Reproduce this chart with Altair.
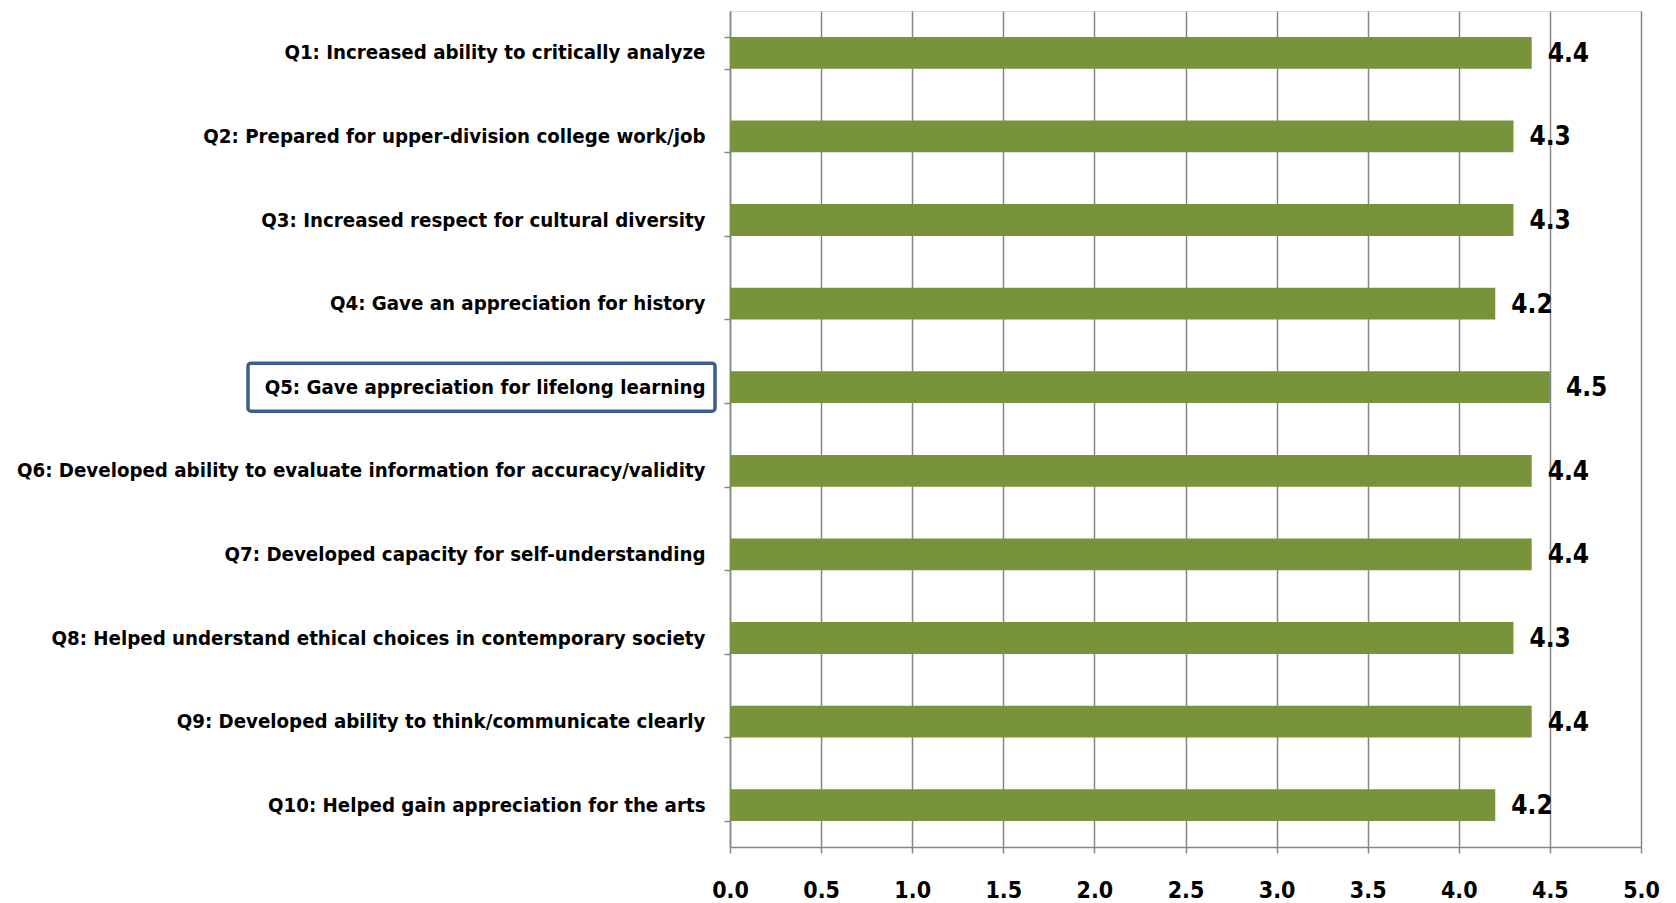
import altair as alt
import pandas as pd

questions = [
    "Q1: Increased ability to critically  analyze",
    "Q2: Prepared for upper-division college work/job",
    "Q3: Increased respect for cultural diversity",
    "Q4: Gave an appreciation for history",
    "Q5: Gave appreciation for lifelong learning",
    "Q6: Developed ability to evaluate information for accuracy/validity",
    "Q7: Developed capacity for self-understanding",
    "Q8: Helped understand ethical choices in contemporary society",
    "Q9: Developed ability to think/communicate clearly",
    "Q10: Helped gain appreciation for the arts",
]
scores = [4.4, 4.3, 4.3, 4.2, 4.5, 4.4, 4.4, 4.3, 4.4, 4.2]
x_ticks = [0.0, 0.5, 1.0, 1.5, 2.0, 2.5, 3.0, 3.5, 4.0, 4.5, 5.0]
highlight = ["Q5: Gave appreciation for lifelong learning"]

df = pd.DataFrame({"q": questions, "score": scores})
df_hl = pd.DataFrame({"q": highlight})

FONT = "DejaVu Sans Condensed, DejaVu Sans, sans-serif"
GRID = "#868686"
GREEN = "#77933C"

y_enc = alt.Y(
    "q:N",
    sort=questions,
    scale=alt.Scale(paddingInner=0.62, paddingOuter=0.31),
    axis=alt.Axis(
        title=None,
        tickBand="extent",
        tickSize=6,
        tickColor=GRID,
        tickWidth=1.5,
        domainColor=GRID,
        domainWidth=1.5,
        labelFont=FONT,
        labelFontSize=20.3,
        labelFontWeight="bold",
        labelColor="black",
        labelPadding=19,
        labelLimit=0,
        grid=False,
    ),
)

x_enc = alt.X(
    "score:Q",
    scale=alt.Scale(domain=[0, 5], nice=False),
    axis=alt.Axis(
        title=None,
        values=x_ticks,
        format=".1f",
        grid=True,
        gridColor=GRID,
        gridWidth=1.5,
        domainColor=GRID,
        domainWidth=1.5,
        tickColor=GRID,
        tickWidth=1.5,
        tickSize=6,
        labelFont=FONT,
        labelFontSize=23,
        labelFontWeight="bold",
        labelColor="black",
        labelPadding=26,
        labelFlush=False,
    ),
)

bars = alt.Chart(df).mark_bar(color=GREEN).encode(y=y_enc, x=x_enc)

labels = alt.Chart(df).mark_text(
    align="left", baseline="middle", dx=16, dy=1, font=FONT, fontSize=26,
    fontWeight="bold", color="black"
).encode(y=alt.Y("q:N", sort=questions), x="score:Q", text=alt.Text("score:Q", format=".1f"))

box = alt.Chart(df_hl).mark_bar(
    orient="horizontal", size=48, fillOpacity=0, stroke="#3A5F8F",
    strokeWidth=3.5, cornerRadius=3
).encode(
    y=alt.Y("q:N", sort=questions),
    x=alt.value(-482),
    x2=alt.value(-15),
)

chart = alt.layer(bars, labels, box).properties(
    width=911,
    height=836,
    autosize=alt.AutoSizeParams(type="none"),
    padding={"left": 722, "top": 3, "right": 24, "bottom": 60},
).configure_view(stroke=None).configure(background="white")

chart.save("out.html", embed_options={"renderer": "svg", "actions": False})
